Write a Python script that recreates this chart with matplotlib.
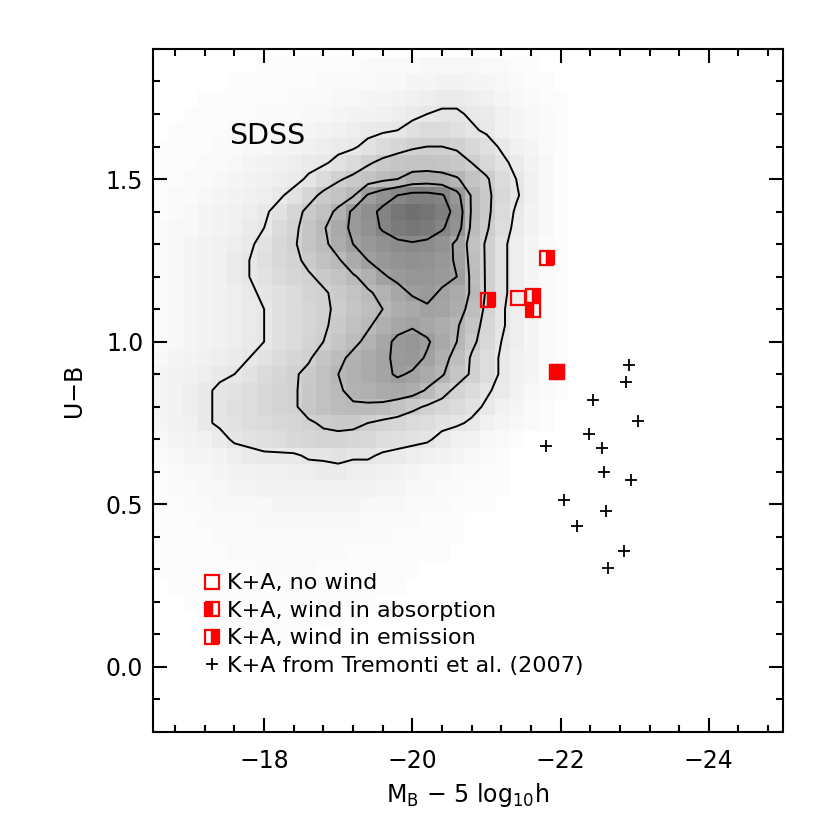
import numpy as np
import matplotlib
matplotlib.use('Agg')
import matplotlib.pyplot as plt
from matplotlib.colors import LinearSegmentedColormap
from matplotlib.ticker import MultipleLocator, FormatStrFormatter

plt.rcParams['font.family'] = 'DejaVu Sans'
plt.rcParams['mathtext.fontset'] = 'dejavusans'

# SDSS grid: bin centres (0.2 mag x 0.05 colour), values in tenths of a contour step
mag_centres = np.round(-16.6 - 0.2 * np.arange(28), 1)
col_centres = np.round(0.10 + 0.05 * np.arange(36), 2)

sdss_density = np.array([
    [0,0,0,0,1,1,1,1,1,1,1,0,0,0,0,0,0,0,0,0,0,0,0,0,0,0,0,0],          # 0.10
    [0,0,0,1,1,1,1,1,1,1,1,1,1,0,0,0,0,0,0,0,0,0,0,0,0,0,0,0],
    [0,0,1,1,1,1,1,1,1,1,1,1,1,1,1,0,0,0,0,0,0,0,0,0,0,0,0,0],
    [0,1,1,1,1,1,1,1,1,1,1,1,1,1,1,1,1,0,0,0,0,0,0,0,0,0,0,0],
    [1,1,1,1,1,1,1,2,2,2,2,1,1,1,1,1,1,1,0,0,0,0,0,0,0,0,0,0],
    [1,1,1,1,1,2,2,2,2,2,2,2,2,1,1,1,1,1,1,1,0,0,0,0,0,0,0,0],
    [1,1,1,1,2,2,2,2,2,2,2,2,2,2,2,2,1,1,1,1,1,0,0,0,0,0,0,0],          # 0.40
    [1,1,1,2,2,2,2,3,3,3,3,3,3,3,2,2,2,2,1,1,1,0,0,0,0,0,0,0],
    [1,1,2,2,3,3,3,3,4,4,4,4,4,4,3,3,3,2,2,2,1,1,1,0,0,0,0,0],          # 0.50
    [1,2,2,3,3,4,4,5,5,5,5,5,5,5,5,4,4,3,3,2,2,1,1,1,0,0,0,0],
    [1,2,3,3,4,5,5,6,6,7,7,8,8,7,7,6,5,4,3,3,2,2,1,1,0,0,0,0],          # 0.60
    [2,3,4,4,5,7,8,9,9,9,11,11,12,11,11,9,8,7,6,5,4,3,2,1,0,0,0,0],
    [3,4,5,6,8,11,12,13,14,16,17,18,18,17,16,14,13,12,11,8,6,5,3,2,1,0,0,0],
    [4,5,6,9,11,12,14,15,16,17,19,21,22,22,20,18,17,15,14,12,11,9,6,4,3,2,1,0],
    [4,5,7,9,11,13,14,16,18,19,23,26,28,29,29,28,25,22,19,17,15,12,9,6,4,2,1,0],
    [4,5,7,9,11,12,14,16,18,19,23,26,29,32,33,35,36,34,29,23,18,15,11,8,5,3,2,1],
    [4,5,6,7,9,10,12,15,17,19,22,26,30,33,35,38,41,39,35,31,24,19,14,9,6,4,2,1],
    [3,4,5,6,7,8,10,12,15,17,19,24,28,32,35,38,42,43,39,33,27,19,14,9,6,4,2,1],
    [2,3,4,5,6,7,9,10,13,15,18,20,24,28,32,37,42,44,41,36,30,22,16,10,7,4,2,1],
    [2,3,4,5,6,7,8,10,13,15,17,19,22,26,29,33,37,39,37,34,31,24,17,11,7,4,2,1],
    [2,3,4,5,6,7,8,10,13,15,17,19,21,24,27,30,34,36,39,38,34,27,18,11,7,4,2,1],
    [2,3,4,5,6,7,9,11,13,15,18,19,22,25,29,32,37,41,42,39,35,29,19,12,7,4,2,1],
    [2,3,4,5,6,8,10,12,15,17,19,22,25,29,33,39,42,44,44,42,40,28,19,12,7,4,2,1],
    [2,3,4,5,6,8,10,13,16,18,22,26,29,35,40,43,45,46,45,43,39,27,19,12,7,4,2,1],
    [2,3,4,5,6,7,9,12,16,19,24,28,34,40,43,46,48,49,48,45,38,26,19,12,7,4,2,1],
    [2,3,3,4,5,6,8,10,15,18,24,29,36,42,46,51,55,57,55,51,45,28,21,14,8,5,3,1],
    [1,2,3,4,5,6,7,9,12,17,22,26,32,42,47,52,57,60,58,54,47,29,22,15,9,5,3,1],
    [1,2,2,3,4,5,6,7,9,12,17,22,25,29,41,46,50,53,53,51,43,29,22,16,11,6,3,1],
    [1,1,2,2,3,4,5,6,7,8,11,15,19,22,25,28,30,34,35,34,31,25,21,15,10,6,3,1],
    [1,1,1,2,2,3,4,5,6,7,8,9,12,15,19,22,24,25,25,24,23,20,16,12,8,5,3,1],
    [1,1,1,1,2,2,3,3,4,5,6,7,8,9,12,15,17,19,20,20,19,16,13,9,6,4,2,1],
    [0,1,1,1,1,2,2,2,3,3,4,5,6,7,8,9,10,13,15,15,13,11,9,6,4,3,2,1],
    [0,0,1,1,1,1,1,2,2,2,3,3,4,5,5,6,7,8,10,11,11,9,8,6,4,3,2,1],
    [0,0,0,1,1,1,1,1,1,2,2,2,3,3,4,4,5,6,7,8,8,7,6,4,3,2,1,1],
    [0,0,0,0,0,1,1,1,1,1,1,2,2,2,2,3,3,4,4,5,5,4,4,3,2,1,1,0],
    [0,0,0,0,0,0,0,1,1,1,1,1,1,1,2,2,2,2,3,3,3,3,2,2,1,1,0,0],          # 1.85
])
contour_levels = [10, 20, 30, 40, 50]

# K+A galaxies
nowind_mag = [-21.42]
nowind_col = [1.133]
absorb_mag = [-21.63, -21.95]
absorb_col = [1.098, 0.907]
emiss_mag = [-21.02, -21.82, -21.63, -21.95]
emiss_col = [1.128, 1.256, 1.142, 0.907]

# K+A from Tremonti et al. (2007)
trem_mag = [-22.92, -22.88, -22.44, -23.05, -22.38, -21.80, -22.56,
            -22.58, -22.95, -22.05, -22.61, -22.22, -22.85, -22.64]
trem_col = [0.927, 0.876, 0.821, 0.756, 0.715, 0.680, 0.673,
            0.600, 0.575, 0.514, 0.478, 0.432, 0.355, 0.304]

fig = plt.figure(figsize=(8.3, 8.3), dpi=100)
ax = fig.add_axes([0.1843, 0.1181, 0.7590, 0.8229])

greys = LinearSegmentedColormap.from_list('sdss', [(1, 1, 1), (0.44, 0.44, 0.44)])
dx, dy = 0.1, 0.025
ax.imshow(sdss_density, cmap=greys, vmin=0, vmax=60, origin='lower', aspect='auto',
          interpolation='nearest', zorder=0,
          extent=[mag_centres[0] + dx, mag_centres[-1] - dx,
                  col_centres[0] - dy, col_centres[-1] + dy])
ax.contour(mag_centres, col_centres, sdss_density, levels=contour_levels,
           colors='black', linewidths=1.4, zorder=1)

h1, = ax.plot(nowind_mag, nowind_col, 's', ms=10, mfc='none', mec='red', mew=1.6,
              ls='none', label='K+A, no wind', zorder=3)
h2, = ax.plot(absorb_mag, absorb_col, 's', ms=10, fillstyle='left', mfc='red',
              mfcalt='none', mec='red', mew=1.6, ls='none',
              label='K+A, wind in absorption', zorder=3)
h3, = ax.plot(emiss_mag, emiss_col, 's', ms=10, fillstyle='right', mfc='red',
              mfcalt='none', mec='red', mew=1.6, ls='none',
              label='K+A, wind in emission', zorder=3)
h4, = ax.plot(trem_mag, trem_col, '+', ms=9, color='black', mew=1.3, ls='none',
              label='K+A from Tremonti et al. (2007)', zorder=3)

ax.text(-17.53, 1.631, 'SDSS', fontsize=20.5, ha='left', va='center')

ax.legend(handles=[h1, h2, h3, h4], loc='lower left', bbox_to_anchor=(0.081, 0.082),
          frameon=False, fontsize=16, handlelength=0.75, handletextpad=0.3,
          labelspacing=0.34, borderpad=0, borderaxespad=0, numpoints=1)

ax.set_xlim(-16.5, -25)
ax.set_ylim(-0.2, 1.9)
ax.xaxis.set_major_locator(MultipleLocator(2))
ax.xaxis.set_minor_locator(MultipleLocator(0.4))
ax.yaxis.set_major_locator(MultipleLocator(0.5))
ax.yaxis.set_minor_locator(MultipleLocator(0.1))
ax.yaxis.set_major_formatter(FormatStrFormatter('%.1f'))

ax.tick_params(which='both', direction='in', top=True, right=True, width=1.5)
ax.tick_params(which='major', length=10)
ax.tick_params(which='minor', length=5)
ax.tick_params(axis='x', which='major', pad=12, labelsize=17)
ax.tick_params(axis='y', which='major', pad=7, labelsize=17)
for s in ax.spines.values():
    s.set_linewidth(1.5)

ax.set_xlabel('M$_\\mathrm{B}$ \u2212 5 log$_\\mathrm{10}$h', fontsize=17, labelpad=6)
ax.set_ylabel('U\u2212B', fontsize=17, labelpad=14)

fig.savefig('out.png', dpi=100)
